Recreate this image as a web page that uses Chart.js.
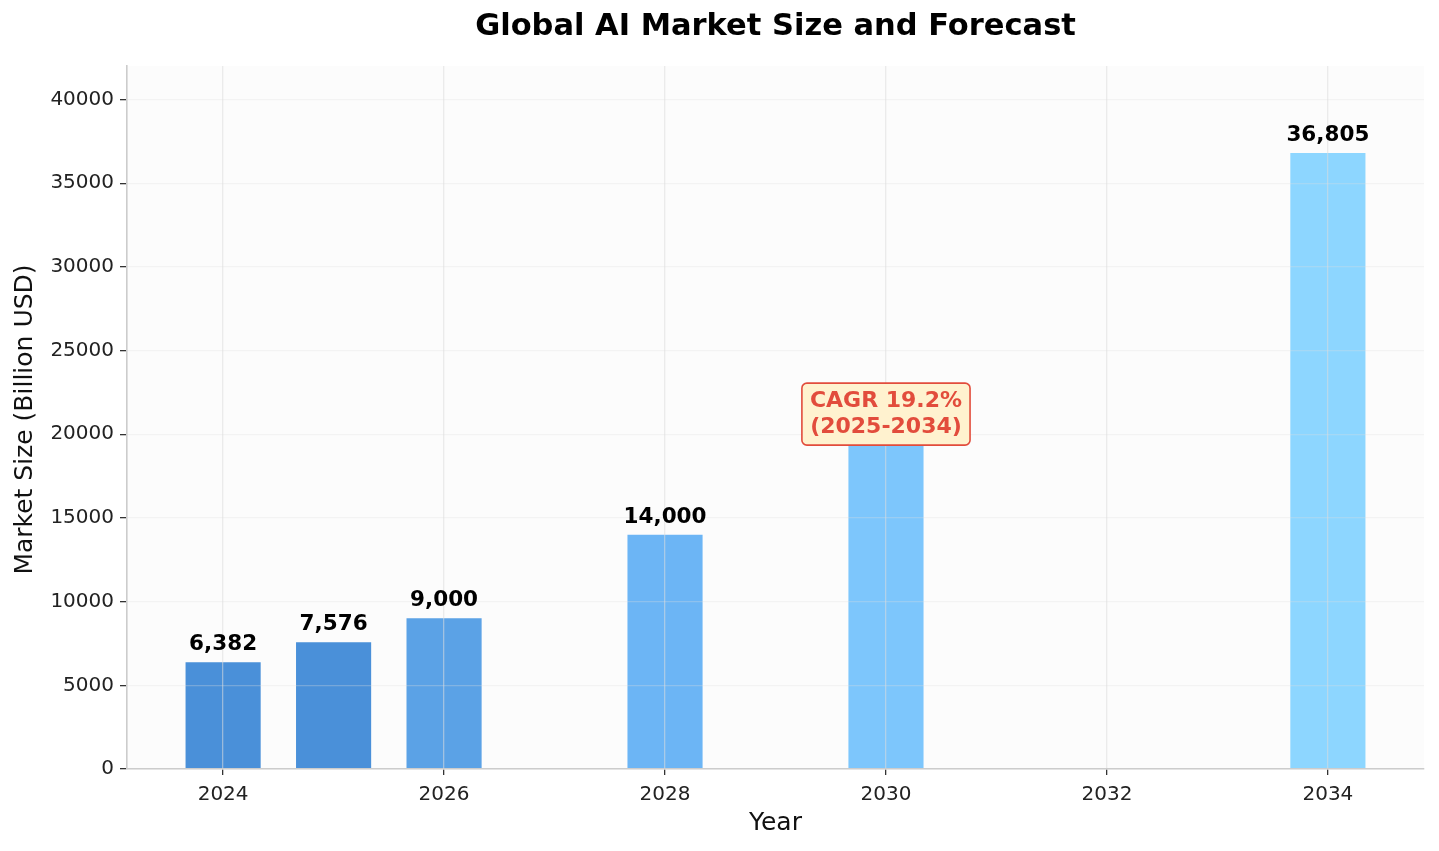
<!DOCTYPE html>
<html>
<head>
<meta charset="utf-8">
<script src="https://cdn.jsdelivr.net/npm/chart.js@4.4.1/dist/chart.umd.min.js"></script>
<style>
  html, body { margin: 0; padding: 0; background: #ffffff; }
  #wrap { width: 1439px; height: 851px; }
</style>
</head>
<body>
<div id="wrap"><canvas id="marketChart" width="1439" height="851"></canvas></div>
<script>
// values (billion USD)
const years = [2024, 2025, 2026, 2028, 2030, 2034];
const marketSize = [6382, 7576, 9000, 14000, 20000, 36805];
const barColors = ['#4a90d9', '#4a90d9', '#5ba2e6', '#6cb5f5', '#7dc6fc', '#8dd6ff'];
const xTicks = [2024, 2026, 2028, 2030, 2032, 2034];
const yTicks = [0, 5000, 10000, 15000, 20000, 25000, 30000, 35000, 40000];
const cagrText = ['CAGR 19.2%', '(2025-2034)'];
const cagrAt = {x: 2030, y: 21200};

const FONT = "'DejaVu Sans', sans-serif";

// plot background, titles, value labels and the CAGR box
const extras = {
  id: 'extras',
  beforeDraw(chart) {
    const a = chart.chartArea, c = chart.ctx;
    c.save();
    c.fillStyle = '#fcfcfc';
    c.fillRect(a.left, a.top, a.right - a.left, a.bottom - a.top);
    c.restore();
  },
  afterDraw(chart) {
    const c = chart.ctx, a = chart.chartArea;
    const xs = chart.scales.x, ys = chart.scales.y;
    c.save();
    c.fillStyle = '#000';
    c.textAlign = 'center';
    c.textBaseline = 'middle';
    c.font = 'bold 30.5px ' + FONT;
    c.fillText('Global AI Market Size and Forecast', (a.left + a.right) / 2, 27);

    c.font = '25px ' + FONT;
    c.fillStyle = '#111';
    c.fillText('Year', (a.left + a.right) / 2, 823);
    c.save();
    c.translate(25, (a.top + a.bottom) / 2 + 2);
    c.rotate(-Math.PI / 2);
    c.fillText('Market Size (Billion USD)', 0, 0);
    c.restore();

    // value labels (2030 sits under the CAGR box)
    c.font = 'bold 21.5px ' + FONT;
    c.fillStyle = '#000';
    c.textBaseline = 'alphabetic';
    const meta = chart.getDatasetMeta(0);
    meta.data.forEach((bar, i) => {
      c.fillText(marketSize[i].toLocaleString('en-US'), bar.x, bar.y - 12);
    });

    // CAGR annotation
    const cx = xs.getPixelForValue(cagrAt.x), cy = ys.getPixelForValue(cagrAt.y);
    c.font = 'bold 22px ' + FONT;
    const w = Math.max(...cagrText.map(t => c.measureText(t).width)) + 16;
    const h = 62;
    c.beginPath();
    c.roundRect(cx - w / 2, cy - h / 2, w, h, 5);
    c.fillStyle = '#fff2cf';
    c.fill();
    c.lineWidth = 1.6;
    c.strokeStyle = '#e24c3c';
    c.stroke();
    c.fillStyle = '#e24c3c';
    c.textBaseline = 'middle';
    c.fillText(cagrText[0], cx, cy - 13);
    c.fillText(cagrText[1], cx, cy + 13);
    c.restore();
  }
};

new Chart(document.getElementById('marketChart'), {
  type: 'bar',
  data: {
    datasets: [{
      data: years.map((y, i) => ({x: y, y: marketSize[i]})),
      backgroundColor: barColors,
      borderWidth: 0,
      barPercentage: 0.68,
      categoryPercentage: 1.0
    }]
  },
  options: {
    responsive: false,
    animation: false,
    devicePixelRatio: 1,
    layout: {padding: {top: 66, right: 15, bottom: 0, left: 0}},
    plugins: {legend: {display: false}, tooltip: {enabled: false}, title: {display: false}},
    scales: {
      x: {
        type: 'linear',
        min: 2023.13,
        max: 2034.87,
        offset: false,
        afterBuildTicks: s => { s.ticks = xTicks.map(v => ({value: v})); },
        afterFit: s => { s.height = 82; },
        grid: {z: 1, offset: false, color: 'rgba(221,221,221,0.55)', lineWidth: 1.3, tickColor: '#333', tickLength: 6},
        border: {z: 2, color: '#cccccc', width: 1.6},
        ticks: {font: {family: FONT, size: 20}, color: '#222', padding: 8, callback: v => String(v), maxRotation: 0}
      },
      y: {
        min: 0,
        max: 42000,
        afterBuildTicks: s => { s.ticks = yTicks.map(v => ({value: v})); },
        afterFit: s => { s.width = 127; },
        grid: {z: 1, color: 'rgba(221,221,221,0.3)', lineWidth: 1.3, tickColor: '#333', tickLength: 7},
        border: {z: 2, color: '#cccccc', width: 1.6},
        ticks: {font: {family: FONT, size: 20}, color: '#222', padding: 6, callback: v => String(v)}
      }
    }
  },
  plugins: [extras]
});
</script>
</body>
</html>
